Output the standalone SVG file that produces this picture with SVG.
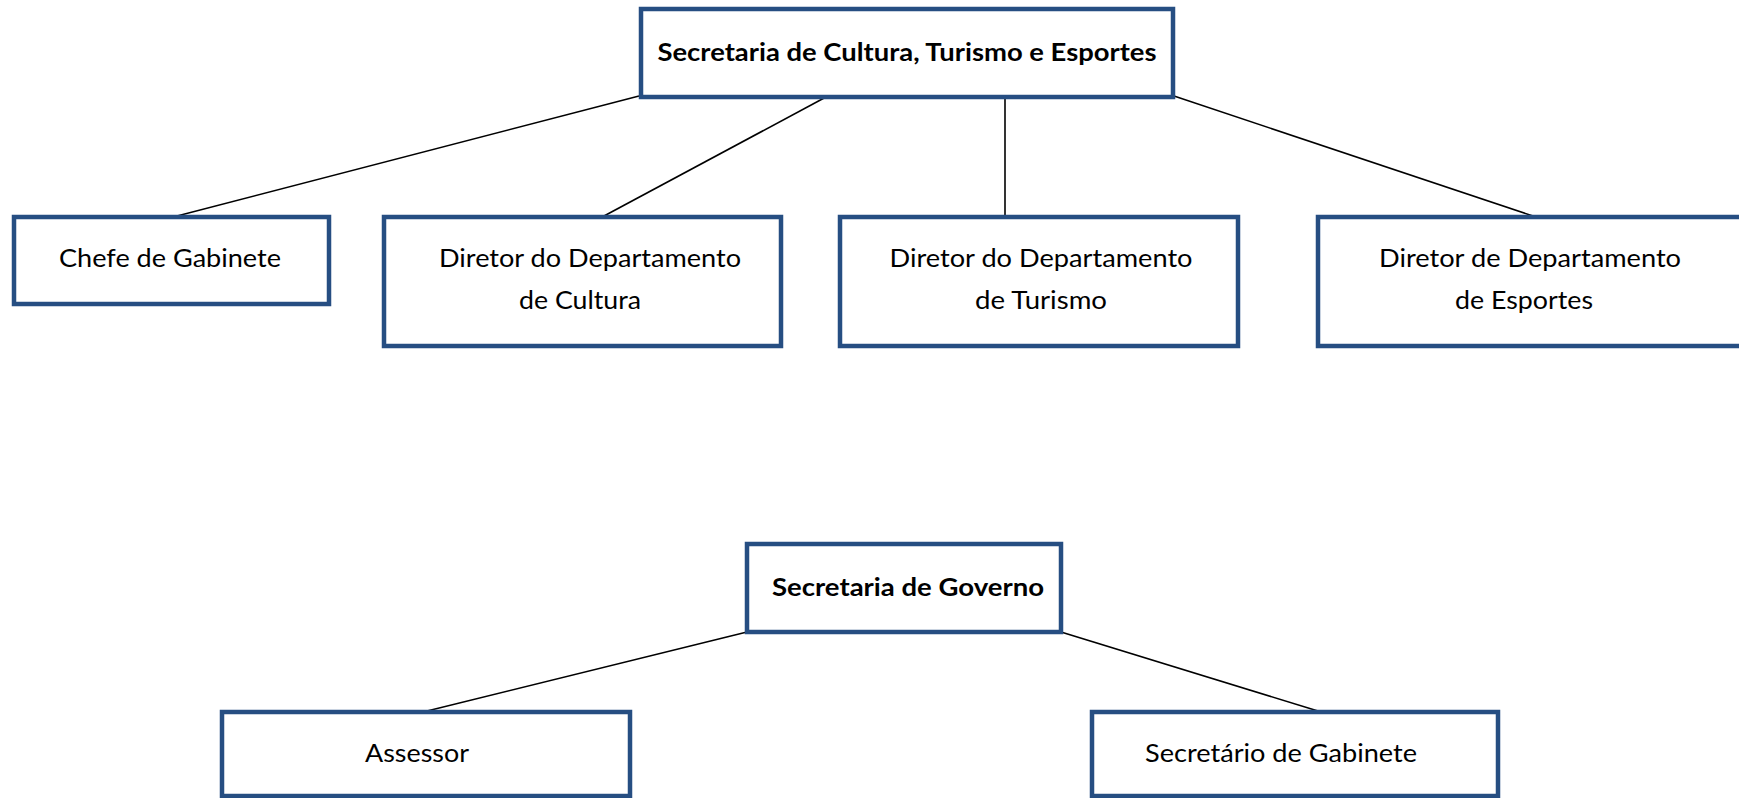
<svg xmlns="http://www.w3.org/2000/svg" width="1739" height="798" viewBox="0 0 1739 798">
<style>
.box{fill:#fff;stroke:#264e82;stroke-width:4.5}
.ln{stroke:#000;stroke-width:1.6;fill:none}
.t{font-family:Lato,"Open Sans","Liberation Sans",sans-serif;font-size:25px;fill:#000;text-anchor:middle}
.b{font-weight:bold}
</style>
<rect width="1739" height="798" fill="#fff"/>
<g id="connectors">
<line class="ln" x1="639" y1="96" x2="177" y2="216"/>
<line class="ln" x1="826" y1="97" x2="604" y2="216"/>
<line class="ln" x1="1005" y1="98" x2="1005" y2="216"/>
<line class="ln" x1="1174" y1="96" x2="1533" y2="216"/>
<line class="ln" x1="747" y1="632" x2="427" y2="711"/>
<line class="ln" x1="1061" y1="632" x2="1318" y2="711"/>
</g>
<g id="n-sec-cultura">
<rect class="box" x="641" y="9" width="532" height="88"/>
<text class="t b" x="907" y="61" textLength="499" lengthAdjust="spacingAndGlyphs">Secretaria de Cultura, Turismo e Esportes</text>
</g>
<g id="n-chefe">
<rect class="box" x="14" y="217" width="315" height="87"/>
<text class="t" x="170" y="267" textLength="222" lengthAdjust="spacingAndGlyphs">Chefe de Gabinete</text>
</g>
<g id="n-cultura">
<rect class="box" x="384" y="217" width="397" height="129"/>
<text class="t" x="590" y="267" textLength="302" lengthAdjust="spacingAndGlyphs">Diretor do Departamento</text>
<text class="t" x="580" y="309" textLength="122" lengthAdjust="spacingAndGlyphs">de Cultura</text>
</g>
<g id="n-turismo">
<rect class="box" x="840" y="217" width="398" height="129"/>
<text class="t" x="1041" y="267" textLength="303" lengthAdjust="spacingAndGlyphs">Diretor do Departamento</text>
<text class="t" x="1041" y="309" textLength="132" lengthAdjust="spacingAndGlyphs">de Turismo</text>
</g>
<g id="n-esportes">
<rect class="box" x="1318" y="217" width="430" height="129"/>
<text class="t" x="1530" y="267" textLength="302" lengthAdjust="spacingAndGlyphs">Diretor de Departamento</text>
<text class="t" x="1524" y="309" textLength="138" lengthAdjust="spacingAndGlyphs">de Esportes</text>
</g>
<g id="n-sec-governo">
<rect class="box" x="747" y="544" width="314" height="88"/>
<text class="t b" x="908" y="596" textLength="272" lengthAdjust="spacingAndGlyphs">Secretaria de Governo</text>
</g>
<g id="n-assessor">
<rect class="box" x="222" y="712" width="408" height="84"/>
<text class="t" x="417" y="762" textLength="104" lengthAdjust="spacingAndGlyphs">Assessor</text>
</g>
<g id="n-secretario">
<rect class="box" x="1092" y="712" width="406" height="84"/>
<text class="t" x="1281" y="762" textLength="272" lengthAdjust="spacingAndGlyphs">Secretário de Gabinete</text>
</g>
</svg>
